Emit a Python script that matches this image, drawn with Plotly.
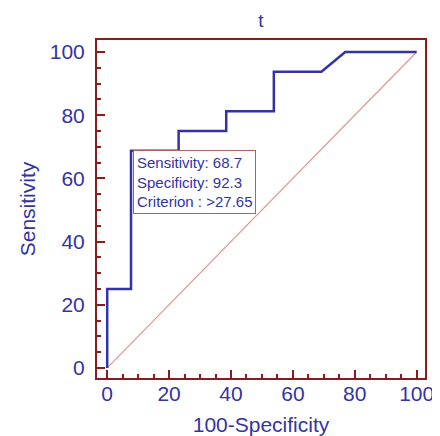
import plotly.graph_objects as go

fpr = [0, 0, 7.69, 7.69, 23.08, 23.08, 38.46, 38.46, 53.85, 53.85, 69.23, 76.92, 100]
tpr = [0, 25, 25, 68.75, 68.75, 75, 75, 81.25, 81.25, 93.75, 93.75, 100, 100]
diag_x = [0, 100]
diag_y = [0, 100]
tick_vals = [0, 20, 40, 60, 80, 100]
box_text = "Sensitivity: 68.7<br>Specificity: 92.3<br>Criterion : >27.65"

BLUE = "#3333a6"
RED = "#8b1c1c"
FONT = "Liberation Sans, Arial, sans-serif"

fig = go.Figure()
fig.add_trace(go.Scatter(x=diag_x, y=diag_y, mode="lines",
                         line=dict(color="#e49494", width=1.2), showlegend=False))
fig.add_trace(go.Scatter(x=fpr, y=tpr, mode="lines",
                         line=dict(color=BLUE, width=2.5), showlegend=False))

fig.add_annotation(x=8.2, y=69.0, xref="x", yref="y", xanchor="left", yanchor="top",
                   text=box_text, showarrow=False, align="left",
                   font=dict(family=FONT, size=15, color=BLUE),
                   bgcolor="white", bordercolor="#b06060", borderwidth=1, borderpad=3)

axis_common = dict(
    showline=True, linecolor=RED, linewidth=2, mirror=True,
    ticks="inside", ticklen=8, tickwidth=2, tickcolor=RED,
    showgrid=False, zeroline=False, automargin=False,
    tickvals=tick_vals,
    tickfont=dict(family=FONT, size=21, color=BLUE),
    minor=dict(dtick=5, ticks="inside", ticklen=4, tickwidth=1.5, tickcolor=RED),
)

# page body has an 8px default margin; size the figure to compensate
W, H = 432, 428
fig.update_layout(
    width=W, height=H,
    margin=dict(l=89, r=15, t=32, b=58),
    plot_bgcolor="white", paper_bgcolor="white",
    title=dict(text="t", x=0.5, xref="paper", y=1 - 12 / H, yref="container", yanchor="middle",
               automargin=False, font=dict(family=FONT, size=19, color=BLUE)),
    xaxis=dict(range=[-3.3, 102.7], title=dict(text="100-Specificity", standoff=14,
               font=dict(family=FONT, size=21, color=BLUE)), ticklabelstandoff=-4, **axis_common),
    yaxis=dict(range=[-3.2, 103.8], title=dict(text="Sensitivity", standoff=8,
               font=dict(family=FONT, size=21, color=BLUE)), ticklabelstandoff=6, **axis_common),
)

fig.write_html("out.html")
